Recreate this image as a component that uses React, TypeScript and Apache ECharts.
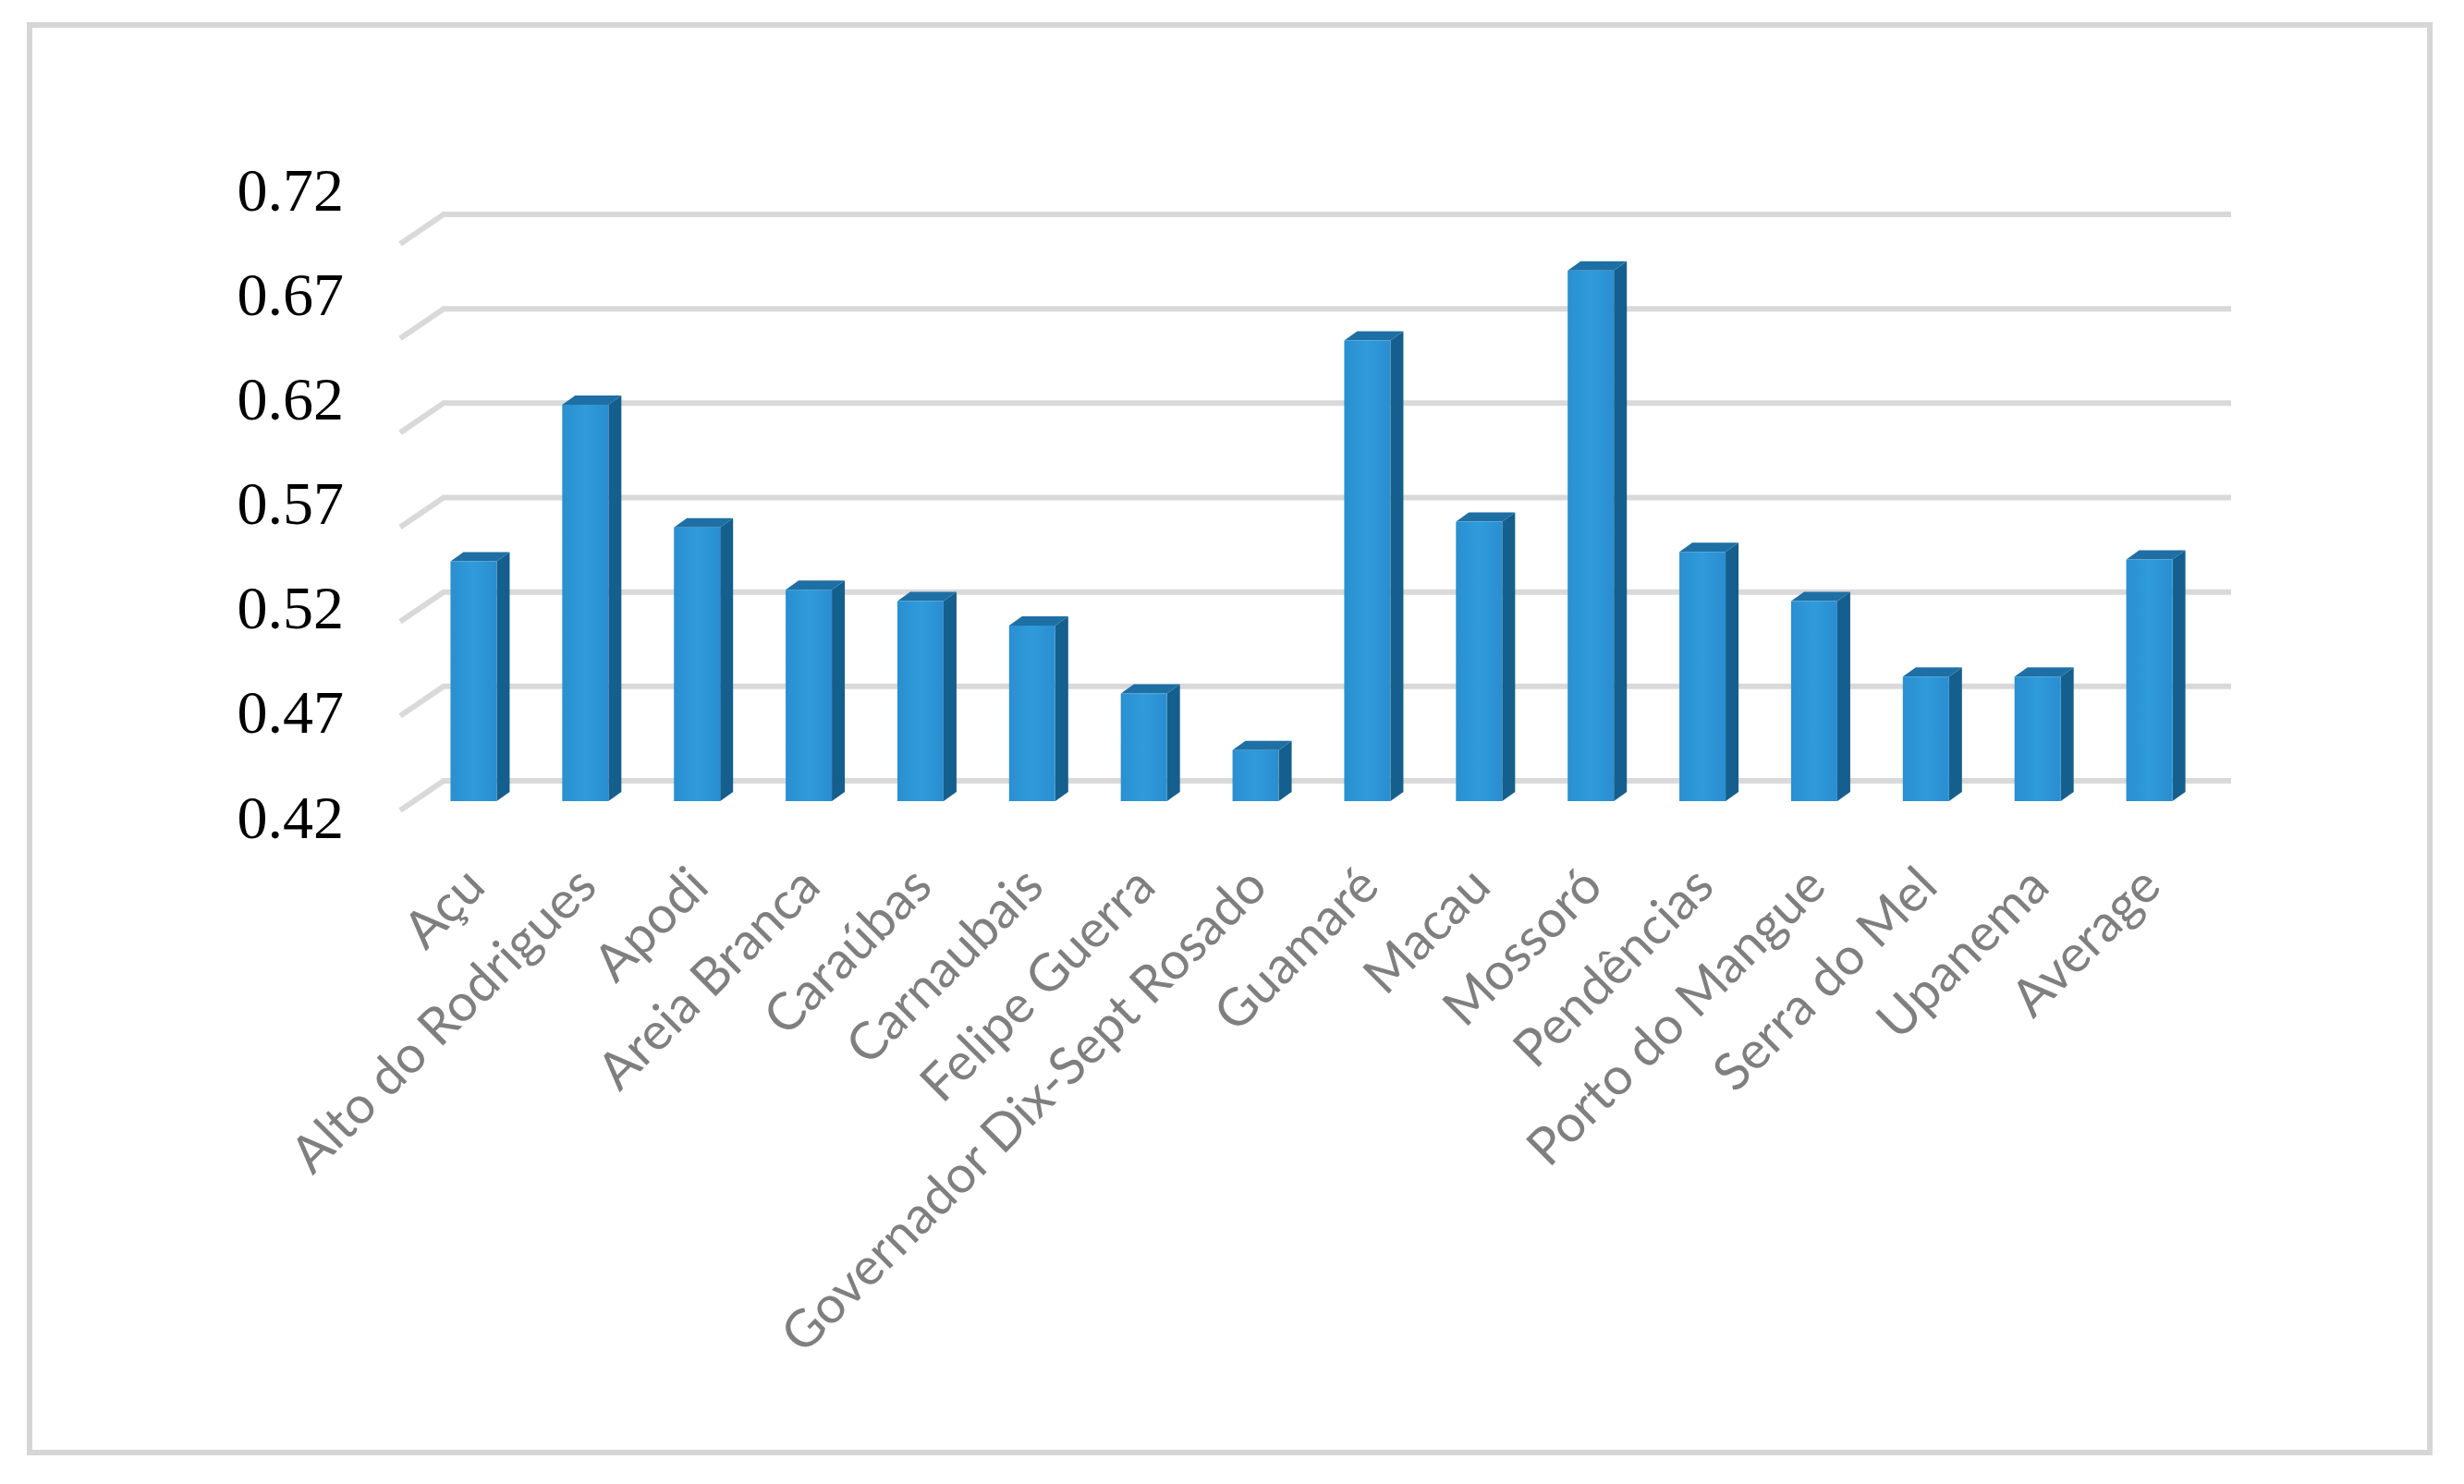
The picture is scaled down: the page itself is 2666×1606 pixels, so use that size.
import React, { useEffect, useRef } from "react";
import * as echarts from "echarts";

const categories = [
  "Açu",
  "Alto do Rodrigues",
  "Apodi",
  "Areia Branca",
  "Caraúbas",
  "Carnaubais",
  "Felipe Guerra",
  "Governador Dix-Sept Rosado",
  "Guamaré",
  "Macau",
  "Mossoró",
  "Pendências",
  "Porto do Mangue",
  "Serra do Mel",
  "Upanema",
  "Average",
];
const values = [0.547, 0.63, 0.565, 0.532, 0.526, 0.513, 0.477, 0.447, 0.664, 0.568, 0.701, 0.552, 0.526, 0.486, 0.486, 0.548];
const yTicks = [0.42, 0.47, 0.52, 0.57, 0.62, 0.67, 0.72];
const yTickLabels = yTicks.map((v) => v.toFixed(2));

const Y_MIN = 0.42;
const Y_MAX = 0.72;

export default function App() {
  const ref = useRef<HTMLDivElement>(null);

  useEffect(() => {
    if (!ref.current) return;
    const chart = echarts.init(ref.current, undefined, { renderer: "svg" });

    const frontGrad = new echarts.graphic.LinearGradient(0, 0, 1, 0, [
      { offset: 0, color: "#2a8fd0" },
      { offset: 0.5, color: "#2f9bdb" },
      { offset: 1, color: "#2a8ecf" },
    ]);

    const option: any = {
      animation: false,
      backgroundColor: "#ffffff",
      grid: [
        { left: 452, right: 280, top: 254, bottom: 739 },
        { left: 380, width: 10, top: 205, bottom: 722 },
      ],
      xAxis: [
        {
          type: "category",
          gridIndex: 0,
          data: categories,
          axisLine: { show: false },
          axisTick: { show: false },
          splitLine: { show: false },
          axisLabel: {
            interval: 0,
            rotate: 45,
            margin: 80,
            color: "#7f7f7f",
            fontFamily: "Lato",
            fontSize: 56,
          },
        },
        { type: "value", gridIndex: 1, show: false },
      ],
      yAxis: [
        { type: "value", gridIndex: 0, min: Y_MIN, max: Y_MAX, show: false },
        {
          type: "category",
          gridIndex: 1,
          data: yTickLabels,
          boundaryGap: false,
          axisLine: { show: false },
          axisTick: { show: false },
          splitLine: { show: false },
          axisLabel: {
            interval: 0,
            margin: 8,
            fontFamily: "Liberation Serif",
            fontSize: 66,
            color: "#000000",
          },
        },
      ],
      series: [
        {
          type: "custom",
          xAxisIndex: 0,
          yAxisIndex: 0,
          z: 1,
          data: yTicks.map((v) => [0, v]),
          encode: { x: 0, y: 1 },
          renderItem: (params: any, api: any) => {
            const cs = params.coordSys;
            const y = api.coord([0, api.value(1)])[1];
            return {
              type: "polyline",
              shape: {
                points: [
                  [cs.x - 19, y + 10],
                  [cs.x + 28, y - 22],
                  [cs.x + cs.width + 28, y - 22],
                ],
              },
              style: { stroke: "#d9d9d9", lineWidth: 6, fill: null },
            };
          },
        },
        {
          type: "custom",
          xAxisIndex: 0,
          yAxisIndex: 0,
          z: 2,
          data: values.map((v, i) => [i, v]),
          encode: { x: 0, y: 1 },
          renderItem: (params: any, api: any) => {
            const top = api.coord([api.value(0), api.value(1)]);
            const base = api.coord([api.value(0), Y_MIN]);
            const cx = top[0];
            const hw = 25;
            const dx = 14;
            const dy = -10;
            const t = top[1];
            const b = base[1];
            return {
              type: "group",
              children: [
                {
                  type: "polygon",
                  shape: {
                    points: [
                      [cx + hw, t],
                      [cx + hw + dx, t + dy],
                      [cx + hw + dx, b + dy],
                      [cx + hw, b],
                    ],
                  },
                  style: { fill: "#155f8e" },
                },
                {
                  type: "polygon",
                  shape: {
                    points: [
                      [cx - hw, t],
                      [cx + hw, t],
                      [cx + hw + dx, t + dy],
                      [cx - hw + dx, t + dy],
                    ],
                  },
                  style: { fill: "#1e6fa4" },
                },
                {
                  type: "rect",
                  shape: { x: cx - hw, y: t, width: hw * 2, height: b - t },
                  style: { fill: frontGrad },
                },
              ],
            };
          },
        },
      ],
      graphic: [
        {
          type: "rect",
          shape: { x: 32, y: 27, width: 2597, height: 1545 },
          style: { stroke: "#d6d6d6", lineWidth: 6, fill: null },
          silent: true,
        },
      ],
    };

    chart.setOption(option);
    return () => chart.dispose();
  }, []);

  return (
    <div
      ref={ref}
      style={{ position: "fixed", left: 0, top: 0, width: 2666, height: 1606 }}
    />
  );
}
